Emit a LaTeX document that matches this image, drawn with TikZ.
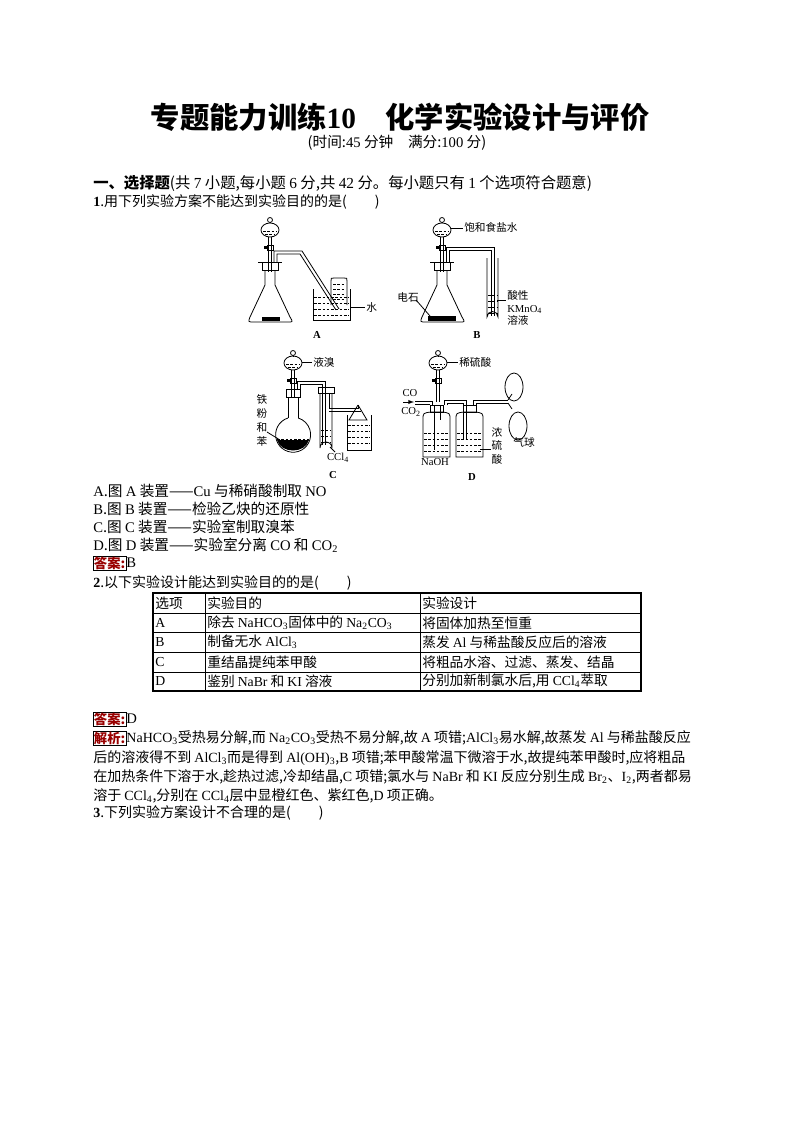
\documentclass[tikz,border=0pt]{standalone}
\usepackage{fontspec}
\setmainfont{Noto Sans CJK SC}
\newfontfamily\lt{Liberation Serif}
\newcommand{\sfunnel}[3]{% x, ybulb, ystemend
  \draw[app] (#1,#2) ellipse (9 and 7);
  \draw[app] (#1,#2-10) circle (2.5);
  \draw[app] (#1,#2-7.5) -- (#1,#2-7);
  \draw[liq] (#1-7,#2+1) -- (#1+7,#2+1);
  \draw[liq] (#1-5,#2+4) -- (#1+5,#2+4);
  \draw[app] (#1-1.5,#2+7) -- (#1-1.5,#3) (#1+1.5,#2+7) -- (#1+1.5,#3);
  \fill (#1-6,#2+16) rectangle (#1-2,#2+19);
  \draw[app] (#1-3,#2+15) rectangle (#1+3,#2+20);
}
\begin{document}
\begin{tikzpicture}[x=0.75pt,y=-0.75pt,
  app/.style={line width=0.6pt},
  liq/.style={line width=0.4pt,dash pattern=on 2pt off 1.2pt},
  txt/.style={anchor=west,inner sep=0pt,font=\fontsize{10.3}{11}\selectfont},
  qtxt/.style={anchor=west,inner sep=0pt,font=\fontsize{10.5}{12}\selectfont},
  otxt/.style={anchor=west,inner sep=0pt,font=\fontsize{11}{12}\selectfont},
  etxt/.style={anchor=west,inner sep=0pt,font=\fontsize{10.5}{12}\selectfont},
  lab/.style={inner sep=0pt,font=\fontsize{8}{9}\selectfont},
  ans/.style={draw=black,line width=0.4pt,inner sep=0.5pt,text=red!60!black,font=\fontsize{10}{11}\selectfont\bfseries}]
\useasboundingbox (0,0) rectangle (794,1123);
\fill[white] (0,0) rectangle (794,1123);
% headings
\node[inner sep=0pt,font=\fontsize{22}{24}\selectfont\bfseries] (title) at (400,117) {专题能力训练{\lt 10}　化学实验设计与评价};
\node[inner sep=0pt,font=\fontsize{11}{12}\selectfont] (sub) at (397,143) {(时间:{\lt 45} 分钟　满分:{\lt 100} 分)};
\node[anchor=west,inner sep=0pt,font=\fontsize{11.5}{12}\selectfont\bfseries] (sec) at (93,183) {一、选择题{\mdseries(共 {\lt 7} 小题,每小题 {\lt 6} 分,共 {\lt 42} 分。每小题只有 {\lt 1} 个选项符合题意)}};
\node[qtxt] (q1) at (93,202) {{\bfseries\lt 1}.用下列实验方案不能达到实验目的的是(　　)};
% ===== A =====
\sfunnel{270}{230}{272}
\draw[app] (262,262) rectangle (278,270);
\draw[app] (258,262) -- (282,262);
\draw[app] (265,270) -- (265,285) -- (250,317) .. controls (248,322) .. (254,322) -- (288,322) .. controls (293,322) .. (290,317) -- (275,285) -- (275,270);
\fill (262,317) rectangle (280,321);
\draw[app] (274,262) -- (274,251) -- (302,251) -- (339,309);
\draw[app] (277,262) -- (277,254) -- (300,254) -- (336,310);
\draw[app] (313,289) -- (313,320) -- (350,320) -- (350,289);
\draw[liq] (314,297) -- (349,297) (314,303) -- (349,303) (314,309) -- (349,309) (314,315) -- (349,315);
\draw[app] (331,305) -- (331,281) .. controls (331,278) .. (334,278) -- (344,278) .. controls (347,278) .. (347,281) -- (347,305);
\draw[liq] (333,284) -- (345,284) (333,289) -- (345,289) (333,294) -- (345,294) (333,299) -- (345,299);
\draw[app] (350,307) -- (365,307);
\node[lab,anchor=west] (wa) at (366,307) {水};
\node[lab,font=\fontsize{8}{9}\selectfont\lt\bfseries] (la) at (317,335) {A};
% ===== B =====
\sfunnel{442}{230}{272}
\draw[app] (434,262) rectangle (450,270);
\draw[app] (430,262) -- (454,262);
\draw[app] (437,270) -- (437,285) -- (422,317) .. controls (420,322) .. (426,322) -- (460,322) .. controls (465,322) .. (462,317) -- (447,285) -- (447,270);
\fill (428,316) rectangle (456,321);
\draw[app] (446,262) -- (446,247) -- (494,247) -- (494,316);
\draw[app] (449,262) -- (449,250) -- (491,250) -- (491,316);
\draw[app] (487,258) -- (487,317) arc (180:360:5.5) -- (498,258);
\draw[liq] (488,295) -- (497,295) (488,301) -- (497,301) (488,307) -- (497,307) (488,313) -- (497,313);
\draw[app] (451,228) -- (463,228);
\node[lab,anchor=west] (bl1) at (464,227) {饱和食盐水};
\node[lab] (bl2) at (408,297) {电石};
\draw[app] (416,300) -- (430,316);
\draw[app] (497,300) -- (506,300);
\node[lab,anchor=west,align=left,font=\fontsize{8}{9.5}\selectfont] (bl3) at (507,308) {酸性\\{\lt KMnO\textsubscript{4}}\\溶液};
\node[lab,font=\fontsize{8}{9}\selectfont\lt\bfseries] (lb) at (477,335) {B};
% ===== C =====
\sfunnel{293}{363}{398}
\draw[app] (286,389) rectangle (300,397);
\draw[app] (288,397) -- (288,418) (298,397) -- (298,418);
\draw[app] (288,418) arc (253:-73:17.5);
\fill (277,440) .. controls (281,454) and (305,454) .. (309,440) -- cycle;
\draw[liq] (277,439) -- (309,439);
\draw[app] (297,389) -- (297,381) -- (325,381) -- (325,445);
\draw[app] (300,389) -- (300,384) -- (322,384) -- (322,445);
\draw[app] (318,387) rectangle (334,393);
\draw[app] (320,393) -- (320,448) arc (180:360:6) -- (332,393);
\draw[liq] (321,430) -- (331,430) (321,436) -- (331,436) (321,442) -- (331,442);
\draw[app] (329,393) -- (329,408) -- (358,408) -- (358,405);
\draw[app] (329,411) -- (361,411);
\draw[app] (358,405) -- (349,420) -- (367,420) -- (358,405);
\draw[app] (347,415) -- (347,450) -- (371,450) -- (371,415);
\draw[liq] (348,425) -- (370,425) (348,431) -- (370,431) (348,437) -- (370,437) (348,443) -- (370,443);
\draw[app] (302,362) -- (312,362);
\node[lab,anchor=west] (cl1) at (313,362) {液溴};
\node[lab,align=center,font=\fontsize{8}{10.5}\selectfont] (cl2) at (262,420) {铁\\粉\\和\\苯};
\draw[app] (267,432) -- (280,440);
\draw[app] (330,447) -- (335,452);
\node[lab,font=\fontsize{8}{9}\selectfont\lt] (cl3) at (338,458) {CCl\textsubscript{4}};
\node[lab,font=\fontsize{8}{9}\selectfont\lt\bfseries] (lc) at (333,475) {C};
% ===== D =====
\sfunnel{438}{363}{402}
\foreach \bx in {423,456}{
  \draw[app] (\bx,457) -- (\bx,420) .. controls (\bx,413) .. (\bx+8,412) -- (\bx+19,412) .. controls (\bx+27,413) .. (\bx+27,420) -- (\bx+27,457) -- cycle;
  \draw[app] (\bx+7,405) rectangle (\bx+20,412);
  \draw[liq] (\bx+1,433) -- (\bx+26,433) (\bx+1,439) -- (\bx+26,439) (\bx+1,445) -- (\bx+26,445) (\bx+1,451) -- (\bx+26,451);
}
\draw[app] (434,405) -- (434,450) (440,405) -- (440,420);
\draw[app] (415,401) -- (432,401) -- (432,405) (415,404) -- (430,404);
\draw[app] (444,405) -- (444,400) -- (466,400) -- (466,440) (447,405) -- (447,403) -- (463,403) -- (463,440);
\draw[app] (473,405) -- (473,400) -- (508,400) (476,405) -- (476,403) -- (508,403);
\draw[app] (508,400) -- (512,394) (508,403) -- (512,409);
\draw[app] (514,387) ellipse (9 and 14);
\draw[app] (518,426) ellipse (9 and 14);
\draw[-latex,line width=0.5pt] (403,402) -- (414,402);
\node[lab,font=\fontsize{8}{9}\selectfont\lt] (dco) at (410,393) {CO};
\node[lab,font=\fontsize{8}{9}\selectfont\lt] (dco2) at (411,412) {CO\textsubscript{2}};
\draw[app] (447,362) -- (458,362);
\node[lab,anchor=west] (dl1) at (459,362) {稀硫酸};
\node[lab,align=center,font=\fontsize{8}{10}\selectfont] (dl2) at (497,446) {浓\\硫\\酸};
\draw[app] (480,449) -- (491,449);
\node[lab,font=\fontsize{8}{9}\selectfont\lt] (dl3) at (435,462) {NaOH};
\node[lab] (dl4) at (524,442) {气球};
\node[lab,font=\fontsize{8}{9}\selectfont\lt\bfseries] (ld) at (472,477) {D};
% options
\node[otxt] (oA) at (93,491) {{\lt A}.图 {\lt A} 装置——{\lt Cu} 与稀硝酸制取 {\lt NO}};
\node[otxt] (oB) at (93,509) {{\lt B}.图 {\lt B} 装置——检验乙炔的还原性};
\node[otxt] (oC) at (93,527) {{\lt C}.图 {\lt C} 装置——实验室制取溴苯};
\node[otxt] (oD) at (93,545) {{\lt D}.图 {\lt D} 装置——实验室分离 {\lt CO} 和 {\lt CO\textsubscript{2}}};
\node[ans,anchor=west] (a1) at (93,563) {答案:};
\node[otxt,anchor=west] (a1v) at (a1.east) {\lt B};
\node[qtxt] (q2) at (93,583) {{\bfseries\lt 2}.以下实验设计能达到实验目的的是(　　)};
% table
\draw[line width=1.3pt] (153,593) rectangle (641,691);
\foreach \yy in {613,632,652,672} \draw[line width=0.5pt] (153,\yy) -- (641,\yy);
\draw[line width=0.5pt] (205,593) -- (205,691) (420,593) -- (420,691);
\node[txt] (t00) at (155,603) {选项};
\node[txt] (t01) at (207,603) {实验目的};
\node[txt] (t02) at (422,603) {实验设计};
\node[txt] (t10) at (155,623) {\lt A};
\node[txt] (t11) at (207,623) {除去 {\lt NaHCO\textsubscript{3}}固体中的 {\lt Na\textsubscript{2}CO\textsubscript{3}}};
\node[txt] (t12) at (422,623) {将固体加热至恒重};
\node[txt] (t20) at (155,642) {\lt B};
\node[txt] (t21) at (207,642) {制备无水 {\lt AlCl\textsubscript{3}}};
\node[txt] (t22) at (422,642) {蒸发 {\lt Al} 与稀盐酸反应后的溶液};
\node[txt] (t30) at (155,662) {\lt C};
\node[txt] (t31) at (207,662) {重结晶提纯苯甲酸};
\node[txt] (t32) at (422,662) {将粗品水溶、过滤、蒸发、结晶};
\node[txt] (t40) at (155,681) {\lt D};
\node[txt] (t41) at (207,681) {鉴别 {\lt NaBr} 和 {\lt KI} 溶液};
\node[txt] (t42) at (422,681) {分别加新制氯水后,用 {\lt CCl\textsubscript{4}}萃取};
% answer 2
\node[ans,anchor=west] (a2) at (93,719) {答案:};
\node[otxt,anchor=west] (a2v) at (a2.east) {\lt D};
\node[ans,anchor=west] (j2) at (93,738) {解析:};
\node[etxt,anchor=west] (j2a) at (j2.east) {{\lt NaHCO\textsubscript{3}}受热易分解,而 {\lt Na\textsubscript{2}CO\textsubscript{3}}受热不易分解,故 {\lt A} 项错;{\lt AlCl\textsubscript{3}}易水解,故蒸发 {\lt Al} 与稀盐酸反应};
\node[etxt] (j2b) at (93,758) {后的溶液得不到 {\lt AlCl\textsubscript{3}}而是得到 {\lt Al(OH)\textsubscript{3}},{\lt B} 项错;苯甲酸常温下微溶于水,故提纯苯甲酸时,应将粗品};
\node[etxt] (j2c) at (93,777) {在加热条件下溶于水,趁热过滤,冷却结晶,{\lt C} 项错;氯水与 {\lt NaBr} 和 {\lt KI} 反应分别生成 {\lt Br\textsubscript{2}}、{\lt I\textsubscript{2}},两者都易};
\node[etxt] (j2d) at (93,796) {溶于 {\lt CCl\textsubscript{4}},分别在 {\lt CCl\textsubscript{4}}层中显橙红色、紫红色,{\lt D} 项正确。};
\node[qtxt] (q3) at (93,813) {{\bfseries\lt 3}.下列实验方案设计不合理的是(　　)};
\end{tikzpicture}
\end{document}
